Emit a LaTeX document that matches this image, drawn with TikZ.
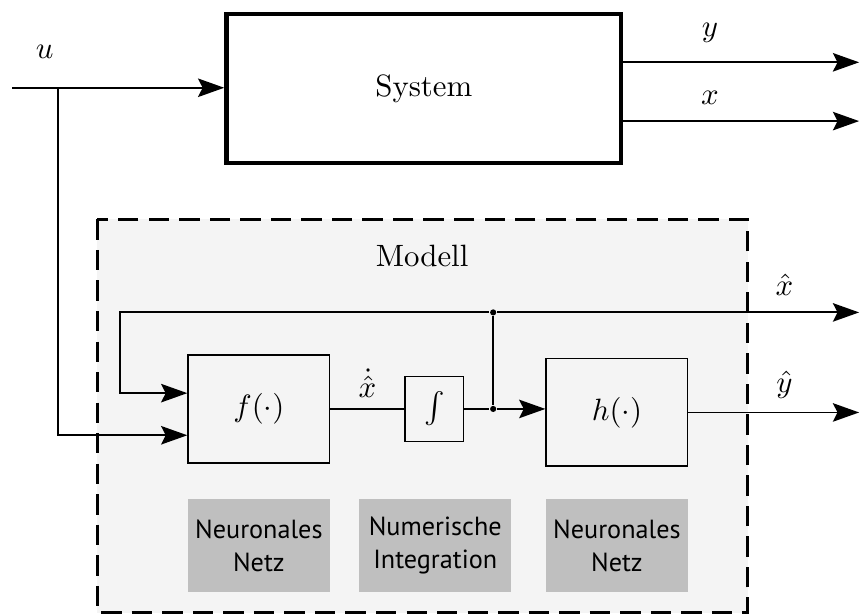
\documentclass[tikz,border=0pt]{standalone}
\usepackage{amsmath}
\usepackage{fontspec}
\usepackage{tikz}
\usetikzlibrary{arrows.meta}
\newfontfamily\netzfont{PT Sans}

\begin{document}
\begin{tikzpicture}[>={Stealth[length=8.5pt, width=6pt, inset=1.5pt]}, semithick]
	\tikzstyle{block} = [draw, semithick, minimum width=1.61cm, minimum height=1.23cm, inner sep=0pt]
	\tikzstyle{netz} = [fill=gray!50, minimum height=1.06cm, inner sep=0pt, align=center, font=\netzfont\fontsize{8.5}{10.7}\selectfont]
	\tikzstyle{junction} = [circle, fill, inner sep=0pt, minimum size=2pt]
	\useasboundingbox (0,0) rectangle (9.80,-7.01);
	% Modell
	\draw [fill=gray!9, line width=0.9pt, dash pattern=on 6.6pt off 3.3pt] (1.11,-2.50) rectangle (8.52,-6.98);
	\node (Modell) at (4.81,-2.92) {Modell};
	% System
	\node [draw, line width=1.4pt, minimum width=4.50cm, minimum height=1.70cm] (System) at (4.83,-1.01) {System};
	\node (u) at (0.51,-0.59) {$u$};
	\node (ylabel) at (8.09,-0.38) {$y$};
	\node (xlabel) at (8.09,-1.12) {$x$};
	\coordinate (uin) at (0.14,-1.00);
	\coordinate (usplit) at (0.66,-1.00);
	\coordinate (yout) at (9.79,-0.71);
	\coordinate (xout) at (9.79,-1.38);
	% Bloecke
	\node [block] (f) at (2.95,-4.66) {$f(\cdot)$};
	\node [draw, thin, minimum width=0.67cm, minimum height=0.74cm, inner sep=0pt] (int) at (4.95,-4.66) {$\int$};
	\node [block] (h) at (7.03,-4.70) {$h(\cdot)$};
	\node [junction] (j1) at (5.62,-4.66) {};
	\node [junction] (j2) at (5.62,-3.56) {};
	\coordinate (fb) at (1.37,-3.56);
	\coordinate (xhatout) at (9.79,-3.56);
	\coordinate (yhatout) at (9.79,-4.70);
	\node (xhat) at (8.94,-3.25) {$\hat{x}$};
	\node (yhat) at (8.94,-4.39) {$\hat{y}$};
	% Beschriftung
	\node [netz, minimum width=1.61cm] (NN1) at (2.95,-6.22) {Neuronales\\Netz};
	\node [netz, minimum width=1.73cm] (NI) at (4.96,-6.22) {Numerische\\Integration};
	\node [netz, minimum width=1.61cm] (NN2) at (7.03,-6.22) {Neuronales\\Netz};
	% Verbindungen
	\draw [->] (uin) -- (System.west |- uin);
	\draw [->] (System.east |- yout) -- (yout);
	\draw [->] (System.east |- xout) -- (xout);
	\draw [->] (usplit) |- ([yshift=-0.30cm]f.west);
	\draw [->] (j2) -- (fb) |- ([yshift=0.18cm]f.west);
	\draw [->] (j2) -- (xhatout);
	\draw (f) -- node [above] (xdot) {$\dot{\hat{x}}$} (int);
	\draw (int) -- (j1);
	\draw (j1) -- (j2);
	\draw [->] (j1) -- (h.west |- j1);
	\draw [->] (h) -- (yhatout);
\end{tikzpicture}
\end{document}
